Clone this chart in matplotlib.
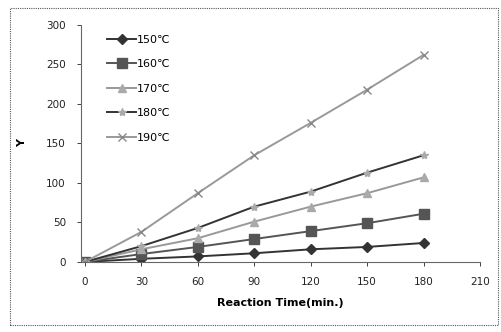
import matplotlib
matplotlib.use("Agg")
import matplotlib.pyplot as plt
from matplotlib.patches import Rectangle

# Values
time_min = [0, 30, 60, 90, 120, 150, 180]
y_150 = [0, 4, 7, 11, 16, 19, 24]
y_160 = [0, 10, 19, 29, 39, 49, 61]
y_170 = [0, 16, 30, 51, 70, 87, 107]
y_180 = [0, 20, 43, 70, 89, 113, 135]
y_190 = [0, 38, 87, 135, 176, 218, 262]
labels = ["150\u2103", "160\u2103", "170\u2103", "180\u2103", "190\u2103"]
x_ticks = [0, 30, 60, 90, 120, 150, 180, 210]
y_ticks = [0, 50, 100, 150, 200, 250, 300]

fig = plt.figure(figsize=(5.01, 3.32), dpi=100)
ax = fig.add_axes([0.162, 0.211, 0.796, 0.714])

# outer dotted chart border
fig.patches.append(Rectangle((0.02, 0.02), 0.975, 0.955, transform=fig.transFigure,
                             fill=False, edgecolor="#555555", linestyle=(0, (1, 1)),
                             linewidth=0.8))

styles = [
    (y_150, "#333333", "D", 5, "#333333"),
    (y_160, "#555555", "s", 6.5, "#555555"),
    (y_170, "#999999", "^", 6, "#aaaaaa"),
    (y_180, "#333333", "*", 6, "#aaaaaa"),
    (y_190, "#999999", "x", 6, "#888888"),
]
for (vals, color, marker, size, mcolor), label in zip(styles, labels):
    ax.plot(time_min, vals, color=color, linewidth=1.4, marker=marker,
            markersize=size, markerfacecolor=mcolor, markeredgecolor=mcolor,
            label=label)

ax.set_xlim(-2, 210)
ax.set_ylim(0, 300)
ax.set_xticks(x_ticks)
ax.set_yticks(y_ticks)
ax.tick_params(labelsize=7.5, colors="#222222", length=3, width=0.6, pad=8)

for side in ["top", "right"]:
    ax.spines[side].set_visible(False)
for side in ["left", "bottom"]:
    ax.spines[side].set_linestyle((0, (1, 1)))
    ax.spines[side].set_color("#666666")
    ax.spines[side].set_linewidth(0.8)

ax.set_xlabel("Reaction Time(min.)", fontsize=8, fontweight="bold", labelpad=8)
ax.set_ylabel("Y", fontsize=8, fontweight="bold", labelpad=14)

ax.legend(loc="upper left", bbox_to_anchor=(0.04, 1.0), frameon=False,
          fontsize=8, handlelength=2.6, handletextpad=0.1, labelspacing=1.3)

fig.savefig("out.png", dpi=100)
